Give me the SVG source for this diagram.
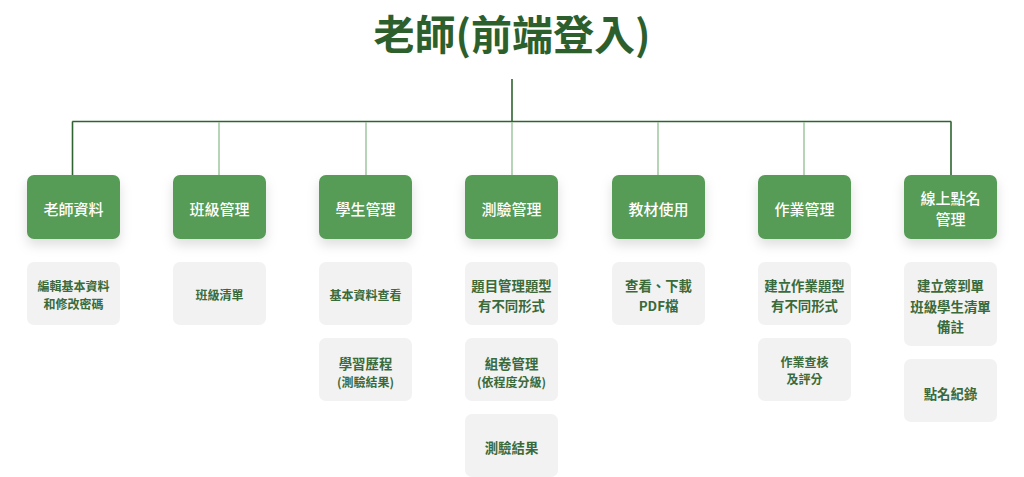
<svg xmlns="http://www.w3.org/2000/svg" width="1024" height="477" viewBox="0 0 1024 477">
<defs>
<filter id="sh" x="-30%" y="-30%" width="160%" height="170%">
<feDropShadow dx="0" dy="6" stdDeviation="6" flood-color="#000" flood-opacity="0.13"/>
</filter>
<style>
.title{font-family:"Noto Sans CJK TC","Noto Sans CJK SC",sans-serif;font-weight:700;font-size:41px;fill:#2d5f2d;text-anchor:middle}
.main rect{fill:#569b56;filter:url(#sh)}
.main text{font-family:"Noto Sans CJK TC","Noto Sans CJK SC",sans-serif;font-weight:500;font-size:15px;fill:#ffffff;text-anchor:middle;dominant-baseline:central}
.sub rect{fill:#f2f2f2}
.sub text{font-family:"Noto Sans CJK TC","Noto Sans CJK SC",sans-serif;font-weight:700;font-size:13.4px;fill:#3a6a3a;text-anchor:middle;dominant-baseline:central}
.sub text.s{font-size:12px}
.dk{stroke:#2f6430;stroke-width:1.6;fill:none}
.lt{stroke:#86b886;stroke-width:1.2;fill:none}
</style>
</defs>
<rect width="1024" height="477" fill="#ffffff"/>
<text class="title" x="512" y="50">老師(前端登入)</text>
<g id="connectors">
<line class="dk" x1="512" y1="79" x2="512" y2="122"/>
<line class="dk" x1="72.3" y1="121.5" x2="951.2" y2="121.5"/>
<line class="dk" x1="72.5" y1="121.5" x2="72.5" y2="176"/>
<line class="dk" x1="951" y1="121.5" x2="951" y2="176"/>
<line class="lt" x1="219" y1="122.3" x2="219" y2="176"/>
<line class="lt" x1="366" y1="122.3" x2="366" y2="176"/>
<line class="lt" x1="512" y1="122.3" x2="512" y2="176"/>
<line class="lt" x1="658" y1="122.3" x2="658" y2="176"/>
<line class="lt" x1="804" y1="122.3" x2="804" y2="176"/>
</g>
<g id="n1" class="main"><rect x="27" y="175" width="93" height="64" rx="7"/><text x="73.5" y="208">老師資料</text></g>
<g id="n2" class="main"><rect x="173" y="175" width="93" height="64" rx="7"/><text x="219.5" y="208">班級管理</text></g>
<g id="n3" class="main"><rect x="319" y="175" width="93" height="64" rx="7"/><text x="365.5" y="208">學生管理</text></g>
<g id="n4" class="main"><rect x="465" y="175" width="93" height="64" rx="7"/><text x="511.5" y="208">測驗管理</text></g>
<g id="n5" class="main"><rect x="612" y="175" width="93" height="64" rx="7"/><text x="658.5" y="208">教材使用</text></g>
<g id="n6" class="main"><rect x="758" y="175" width="93" height="64" rx="7"/><text x="804.5" y="208">作業管理</text></g>
<g id="n7" class="main"><rect x="904" y="175" width="93" height="64" rx="7"/><text x="950.5" y="197">線上點名</text><text x="950.5" y="218.5">管理</text></g>

<g id="s1a" class="sub"><rect x="27" y="262" width="93" height="63" rx="7"/><text class="s" x="73.5" y="285">編輯基本資料</text><text class="s" x="73.5" y="303">和修改密碼</text></g>
<g id="s2a" class="sub"><rect x="173" y="262" width="93" height="63" rx="7"/><text class="s" x="219.5" y="294">班級清單</text></g>
<g id="s3a" class="sub"><rect x="319" y="262" width="93" height="63" rx="7"/><text class="s" x="365.5" y="294">基本資料查看</text></g>
<g id="s3b" class="sub"><rect x="319" y="338" width="93" height="63" rx="7"/><text x="365.5" y="362.5">學習歷程</text><text class="s" x="365.5" y="381">(測驗結果)</text></g>
<g id="s4a" class="sub"><rect x="465" y="262" width="93" height="63" rx="7"/><text x="511.5" y="285">題目管理題型</text><text x="511.5" y="305">有不同形式</text></g>
<g id="s4b" class="sub"><rect x="465" y="338" width="93" height="63" rx="7"/><text x="511.5" y="362.5">組卷管理</text><text class="s" x="511.5" y="381">(依程度分級)</text></g>
<g id="s4c" class="sub"><rect x="465" y="414" width="93" height="63" rx="7"/><text x="511.5" y="447">測驗結果</text></g>
<g id="s5a" class="sub"><rect x="612" y="262" width="93" height="63" rx="7"/><text x="658.5" y="285">查看、下載</text><text x="658.5" y="305">PDF檔</text></g>
<g id="s6a" class="sub"><rect x="758" y="262" width="93" height="63" rx="7"/><text x="804.5" y="285">建立作業題型</text><text x="804.5" y="305">有不同形式</text></g>
<g id="s6b" class="sub"><rect x="758" y="338" width="93" height="63" rx="7"/><text class="s" x="804.5" y="361.5">作業查核</text><text class="s" x="804.5" y="378.5">及評分</text></g>
<g id="s7a" class="sub"><rect x="904" y="262" width="93" height="84" rx="7"/><text x="950.5" y="285">建立簽到單</text><text x="950.5" y="305.5">班級學生清單</text><text x="950.5" y="325.5">備註</text></g>
<g id="s7b" class="sub"><rect x="904" y="359" width="93" height="63" rx="7"/><text x="950.5" y="392.5">點名紀錄</text></g>
</svg>
